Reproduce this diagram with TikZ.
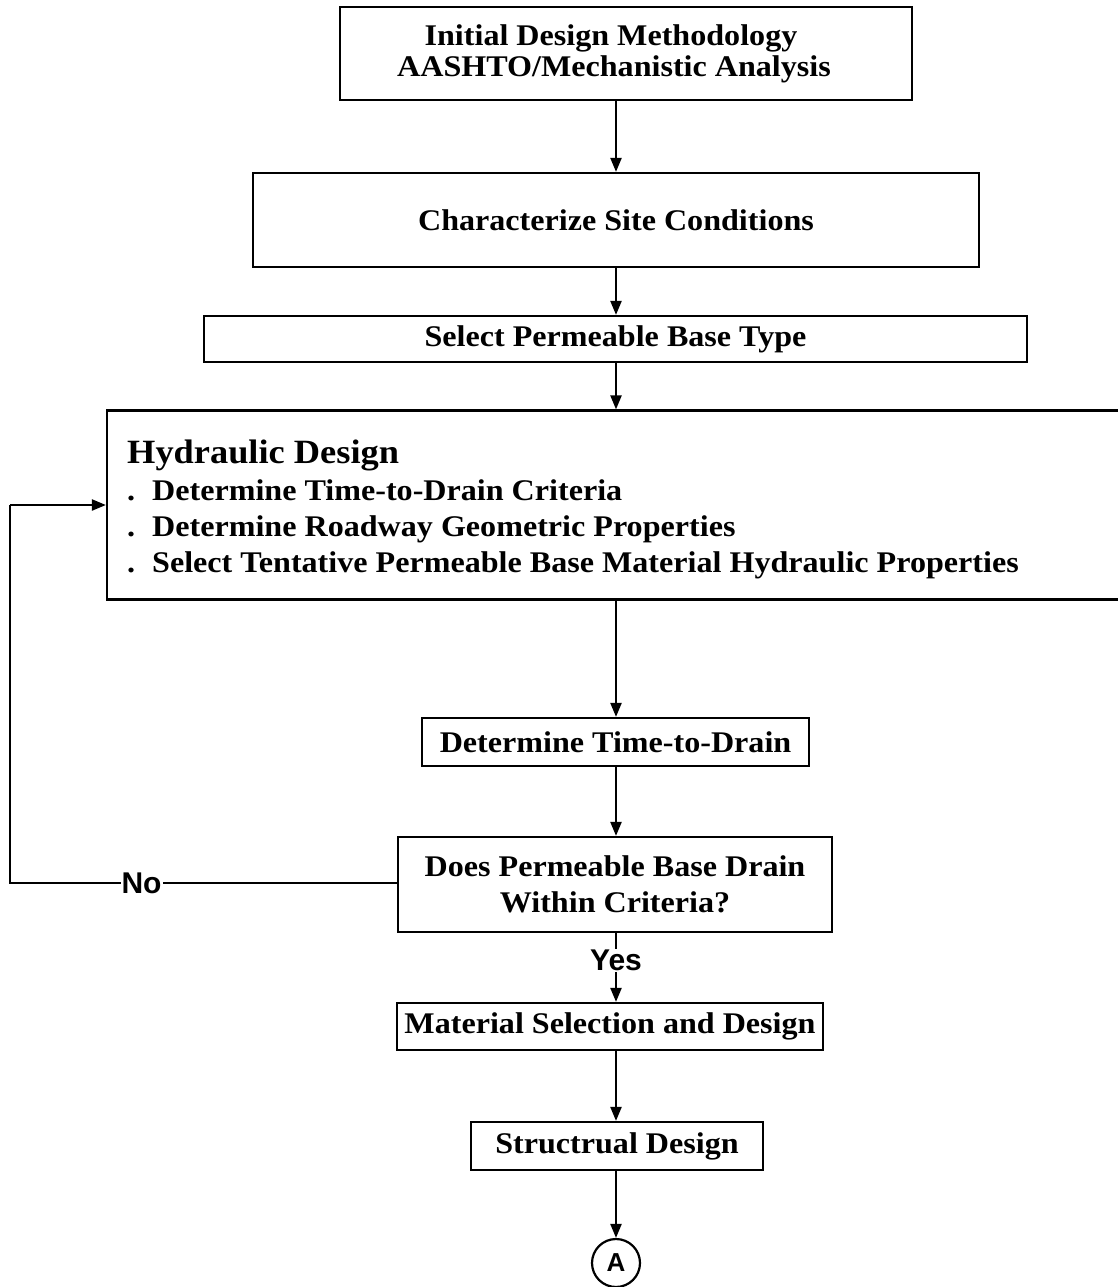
\documentclass[tikz,border=0pt]{standalone}
\usepackage{fontspec}
\setmainfont{Liberation Serif}[FakeStretch=1.07]
\newfontfamily\lsans{Liberation Sans}
\usetikzlibrary{arrows.meta}
\tikzset{
  box/.style={draw, line width=2.2pt, inner sep=0pt, align=center, font=\bfseries\fontsize{30}{31}\selectfont},
  conn/.style={line width=2.2pt, -{Triangle[width=11pt,length=14pt]}},
  plain/.style={line width=2.2pt},
  lbl/.style={font=\lsans\bfseries\fontsize{30}{32}\selectfont, fill=white, inner sep=1pt},
  btxt/.style={anchor=base west, inner sep=0pt, font=\bfseries\fontsize{30}{31}\selectfont}
}
\begin{document}
\begin{tikzpicture}[x=1pt,y=-1pt]
\useasboundingbox (0,0) rectangle (1117,1287);
\node[box, minimum width=572pt, minimum height=93pt] (b1) at (626,53.5) {Initial Design Methodology\hspace*{30pt}\\AASHTO/Mechanistic Analysis\hspace*{24pt}};
\node[box, minimum width=726pt, minimum height=94pt] (b2) at (616,220) {Characterize Site Conditions};
\node[box, minimum width=823pt, minimum height=46pt] (b3) at (615.5,339) {Select Permeable Base Type};
\node[box, minimum width=1018pt, minimum height=189pt] (b4) at (616,505) {};
\node[btxt, font=\bfseries\fontsize{34}{36}\selectfont] (t0) at (127,463) {Hydraulic Design};
\node[btxt] (t1) at (127,500) {\makebox[25pt][l]{.}Determine Time-to-Drain Criteria};
\node[btxt] (t2) at (127,536) {\makebox[25pt][l]{.}Determine Roadway Geometric Properties};
\node[btxt] (t3) at (127,572) {\makebox[25pt][l]{.}Select Tentative Permeable Base Material Hydraulic Properties};
\node[box, minimum width=387pt, minimum height=48pt] (b5) at (615.5,742) {Determine Time-to-Drain};
\node[box, minimum width=434pt, minimum height=95pt, font=\bfseries\fontsize{30}{36}\selectfont] (b6) at (615,884.5) {Does Permeable Base Drain\\Within Criteria?};
\node[box, minimum width=426pt, minimum height=47pt] (b7) at (610,1026.5) {Material Selection and Design};
\node[box, minimum width=292pt, minimum height=48pt] (b8) at (617,1146) {Structrual Design};
\node[draw, circle, line width=2.2pt, minimum size=48pt, inner sep=0pt, font=\lsans\bfseries\fontsize{26}{28}\selectfont] (ca) at (616,1263) {A};
\coordinate (c1) at (10,883);
\coordinate (c2) at (10,505);
\draw[conn] (b1.south -| 616,0) -- (b2.north -| 616,0);
\draw[conn] (b2.south -| 616,0) -- (b3.north -| 616,0);
\draw[conn] (b3.south -| 616,0) -- (b4.north -| 616,0);
\draw[conn] (b4.south -| 616,0) -- (b5.north -| 616,0);
\draw[conn] (b5.south -| 616,0) -- (b6.north -| 616,0);
\draw[conn] (b6.south -| 616,0) -- node[lbl, pos=0.4] (yes) {Yes} (b7.north -| 616,0);
\draw[conn] (b7.south -| 616,0) -- (b8.north -| 616,0);
\draw[conn] (b8.south -| 616,0) -- (ca.north);
\draw[plain] (b6.west |- c1) -- node[lbl, pos=0.66] (no) {No} (c1) -- (c2);
\draw[conn] (c2) -- (b4.west |- c2);
\end{tikzpicture}
\end{document}
